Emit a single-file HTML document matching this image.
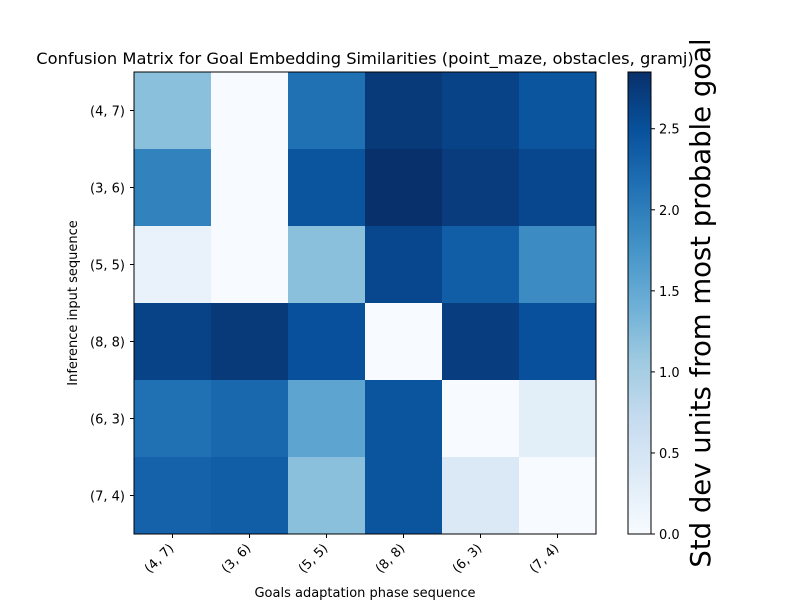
<!DOCTYPE html>
<html><head><meta charset="utf-8"><style>
body{margin:0;background:#fff;font-family:"Liberation Sans","DejaVu Sans",sans-serif;}
svg text{font-family:"DejaVu Sans","Liberation Sans",sans-serif;}
</style></head><body>
<svg id="chart" width="800" height="600">
<text x="365" y="64" text-anchor="middle" font-size="16.3">Confusion Matrix for Goal Embedding Similarities (point_maze, obstacles, gramj)</text>
<g id="cells"></g>
<rect x="134" y="72" width="462" height="462" fill="none" stroke="#000" stroke-width="1"/>
<g id="xt"></g>
<g id="yt"></g>
<text x="365" y="597" text-anchor="middle" font-size="13">Goals adaptation phase sequence</text>
<text transform="translate(77,303) rotate(-90)" text-anchor="middle" font-size="13">Inference input sequence</text>
<defs><linearGradient id="cb" x1="0" y1="1" x2="0" y2="0">
<stop offset="0" stop-color="#f7fbff"/><stop offset="0.125" stop-color="#deebf7"/><stop offset="0.25" stop-color="#c6dbef"/><stop offset="0.375" stop-color="#9ecae1"/><stop offset="0.5" stop-color="#6baed6"/><stop offset="0.625" stop-color="#4292c6"/><stop offset="0.75" stop-color="#2171b5"/><stop offset="0.875" stop-color="#08519c"/><stop offset="1" stop-color="#08306b"/></linearGradient></defs>
<rect x="628" y="72" width="23" height="462" fill="url(#cb)" stroke="#000" stroke-width="1"/>
<g id="ct"></g>
<text transform="translate(710,303) rotate(-90)" text-anchor="middle" font-size="27.5">Std dev units from most probable goal</text>
</svg>
<script>
const xLabels=["(4, 7)","(3, 6)","(5, 5)","(8, 8)","(6, 3)","(7, 4)"];
const yLabels=["(4, 7)","(3, 6)","(5, 5)","(8, 8)","(6, 3)","(7, 4)"];
const row0=[1.2,0,2.15,2.75,2.65,2.45];
const row1=[1.95,0,2.45,2.85,2.72,2.6];
const row2=[0.2,0,1.2,2.6,2.35,1.85];
const row3=[2.65,2.75,2.5,0,2.7,2.5];
const row4=[2.15,2.25,1.55,2.45,0,0.3];
const row5=[2.3,2.35,1.2,2.45,0.4,0];
const cbTicks=[0,0.5,1.0,1.5,2.0,2.5];
const vmin=0,vmax=2.85;
const rows=[row0,row1,row2,row3,row4,row5];
const NS="http://www.w3.org/2000/svg";
const X0=134,Y0=72,S=462,n=xLabels.length,cw=S/n;
const stops=["#f7fbff","#deebf7","#c6dbef","#9ecae1","#6baed6","#4292c6","#2171b5","#08519c","#08306b"].map(h=>[1,3,5].map(i=>parseInt(h.substr(i,2),16)));
function color(v){let t=Math.max(0,Math.min(1,(v-vmin)/(vmax-vmin)))*8;let i=Math.min(7,Math.floor(t)),f=t-i;
const c=stops[i].map((a,k)=>Math.round(a+(stops[i+1][k]-a)*f));return `rgb(${c})`;}
function mk(tag,attrs,parent){const e=document.createElementNS(NS,tag);for(const k in attrs)e.setAttribute(k,attrs[k]);parent.appendChild(e);return e;}
const cells=document.getElementById('cells');
rows.forEach((r,i)=>r.forEach((v,j)=>{const e=mk('rect',{x:X0+j*cw,y:Y0+i*cw,width:cw+0.5,height:cw+0.5,fill:color(v)},cells);

}));
const xt=document.getElementById('xt'),yt=document.getElementById('yt'),ct=document.getElementById('ct');
xLabels.forEach((l,j)=>{const x=X0+(j+0.5)*cw;mk('line',{x1:x,y1:534,x2:x,y2:538,stroke:'#000'},xt);
const t=mk('text',{transform:`translate(${x+2},${549}) rotate(-45)`,'text-anchor':'end','font-size':13},xt);t.textContent=l;

});
yLabels.forEach((l,i)=>{const y=Y0+(i+0.5)*cw;mk('line',{x1:130,y1:y,x2:134,y2:y,stroke:'#000'},yt);
const t=mk('text',{x:125,y:y+5,'text-anchor':'end','font-size':13},yt);t.textContent=l;

});
cbTicks.forEach(v=>{const y=534-(v-vmin)/(vmax-vmin)*S;mk('line',{x1:651,y1:y,x2:655,y2:y,stroke:'#000'},ct);
const t=mk('text',{x:659,y:y+5,'font-size':13},ct);t.textContent=v.toFixed(1);

});
</script>
</body></html>
